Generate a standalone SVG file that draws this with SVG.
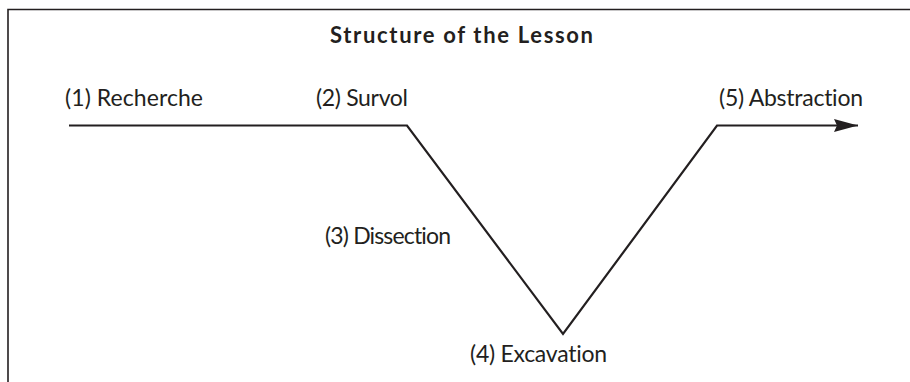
<svg xmlns="http://www.w3.org/2000/svg" width="910" height="382" viewBox="0 0 910 382">
<style>
text{font-family:Lato,"Open Sans","Liberation Sans",sans-serif;fill:#231f20;font-size:23px;font-variant-ligatures:none}
.t{font-weight:bold;font-size:22px}
.ln{fill:none;stroke:#231f20;stroke-width:2.2}
</style>
<defs>
<marker id="ah" viewBox="0 0 24 13" refX="24" refY="6.5" markerWidth="24" markerHeight="13" markerUnits="userSpaceOnUse" orient="auto">
<path d="M0,0 L24,6.5 L0,13 L3,6.5 Z" fill="#231f20"/>
</marker>
</defs>
<rect width="910" height="382" fill="#fff"/>
<path d="M8,382 V9.5 H910" fill="none" stroke="#231f20" stroke-width="1.6"/>
<text class="t" x="330" y="43" textLength="263" lengthAdjust="spacing">Structure of the Lesson</text>
<g id="connectors">
<path class="ln" d="M69,125.5 H407 L563,334 L717,125.5 H858" marker-end="url(#ah)"/>
</g>
<g id="n1"><text x="65" y="106" textLength="138" lengthAdjust="spacing">(1) Recherche</text></g>
<g id="n2"><text x="316" y="106" textLength="92" lengthAdjust="spacing">(2) Survol</text></g>
<g id="n3"><text x="325" y="244" textLength="126" lengthAdjust="spacing">(3) Dissection</text></g>
<g id="n4"><text x="470" y="362" textLength="137" lengthAdjust="spacing">(4) Excavation</text></g>
<g id="n5"><text x="719" y="106" textLength="144" lengthAdjust="spacing">(5) Abstraction</text></g>
</svg>
